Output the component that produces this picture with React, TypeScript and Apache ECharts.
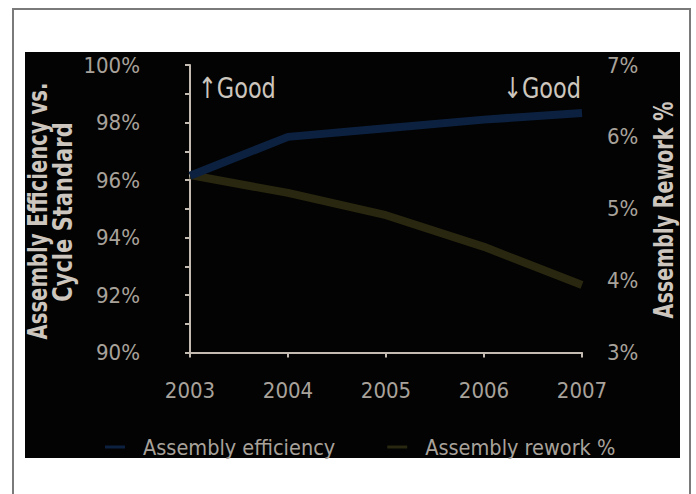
import React, { useEffect, useRef } from "react";
import * as echarts from "echarts";

const years = ["2003", "2004", "2005", "2006", "2007"];
const efficiency = [96.15, 97.5, 97.8, 98.1, 98.33];
const rework = [5.47, 5.22, 4.91, 4.47, 3.94];
const leftTitle1 = "Assembly Efficiency vs.";
const leftTitle2 = "Cycle Standard";
const rightTitle = "Assembly Rework %";
const seriesNames = ["Assembly efficiency", "Assembly rework %"];

const FONT = "'DejaVu Sans Condensed', 'Liberation Sans Narrow', sans-serif";
const AXIS = "#c4bcb2";
const LABEL = "#a8a29b";
const TITLE = "#cdc6be";

export default function App() {
  const ref = useRef<HTMLDivElement>(null);
  useEffect(() => {
    document.body.style.margin = "0";
    const chart = echarts.init(ref.current!, null, { renderer: "svg" });
    chart.setOption({
      animation: false,
      backgroundColor: "#ffffff",
      textStyle: { fontFamily: FONT },
      grid: { left: 190, right: 114, top: 65, bottom: 141.5, containLabel: false },
      graphic: [
        { type: "rect", z: -100, shape: { x: 13, y: 9, width: 677, height: 500 }, style: { fill: "#ffffff", stroke: "#7a7a7a", lineWidth: 2 } },
        { type: "rect", z: -99, shape: { x: 25, y: 52, width: 655, height: 406 }, style: { fill: "#030303" } },
        { type: "text", z: 10, x: 38, y: 211, rotation: Math.PI / 2, scaleX: 0.84, style: { text: leftTitle1, fill: TITLE, font: `bold 26px ${FONT}`, textAlign: "center", textVerticalAlign: "middle" } },
        { type: "text", z: 10, x: 63, y: 212, rotation: Math.PI / 2, scaleX: 0.9, style: { text: leftTitle2, fill: TITLE, font: `bold 26px ${FONT}`, textAlign: "center", textVerticalAlign: "middle" } },
        { type: "text", z: 10, x: 664, y: 210, rotation: Math.PI / 2, scaleX: 0.82, style: { text: rightTitle, fill: TITLE, font: `bold 26px ${FONT}`, textAlign: "center", textVerticalAlign: "middle" } },
        { type: "text", z: 10, x: 198, y: 88, scaleX: 0.86, style: { text: "↑Good", fill: TITLE, font: `29px ${FONT}`, textAlign: "left", textVerticalAlign: "middle" } },
        { type: "text", z: 10, x: 581, y: 88, scaleX: 0.86, style: { text: "↓Good", fill: TITLE, font: `29px ${FONT}`, textAlign: "right", textVerticalAlign: "middle" } }
      ],
      legend: {
        left: 100,
        top: 431,
        itemGap: 52,
        itemWidth: 20,
        itemHeight: 3,
        icon: "rect",
        data: seriesNames,
        textStyle: { color: LABEL, fontSize: 21.5, fontFamily: FONT, padding: [0, 0, 0, 13] }
      },
      xAxis: {
        type: "category",
        data: years,
        boundaryGap: false,
        axisLine: { lineStyle: { color: AXIS, width: 2 } },
        axisTick: { show: true, length: 5, alignWithLabel: true, lineStyle: { color: AXIS, width: 2 } },
        axisLabel: { color: LABEL, fontSize: 22, fontFamily: FONT, margin: 27 },
        splitLine: { show: false }
      },
      yAxis: [
        {
          type: "value",
          min: 90,
          max: 100,
          interval: 1,
          axisLine: { show: true, lineStyle: { color: AXIS, width: 2 } },
          axisTick: { show: true, length: 5, lineStyle: { color: AXIS, width: 2 } },
          axisLabel: {
            color: LABEL,
            fontSize: 22,
            fontFamily: FONT,
            margin: 50,
            formatter: (v: number) => (Math.round(v) % 2 === 0 ? `${Math.round(v)}%` : "")
          },
          splitLine: { show: false }
        },
        {
          type: "value",
          min: 3,
          max: 7,
          interval: 1,
          position: "right",
          axisLine: { show: false },
          axisTick: { show: false },
          axisLabel: { color: LABEL, fontSize: 22, fontFamily: FONT, margin: 25, formatter: (v: number) => `${v}%` },
          splitLine: { show: false }
        }
      ],
      series: [
        {
          name: seriesNames[0],
          type: "line",
          data: efficiency,
          yAxisIndex: 0,
          symbol: "none",
          lineStyle: { color: "#0c2140", width: 8 },
          itemStyle: { color: "#0c2140" },
          z: 3
        },
        {
          name: seriesNames[1],
          type: "line",
          data: rework,
          yAxisIndex: 1,
          symbol: "none",
          lineStyle: { color: "#29270f", width: 8 },
          itemStyle: { color: "#29270f" },
          z: 2
        }
      ]
    });
    return () => chart.dispose();
  }, []);
  return <div ref={ref} style={{ position: "fixed", left: 0, top: 0, width: 696, height: 494 }} />;
}
